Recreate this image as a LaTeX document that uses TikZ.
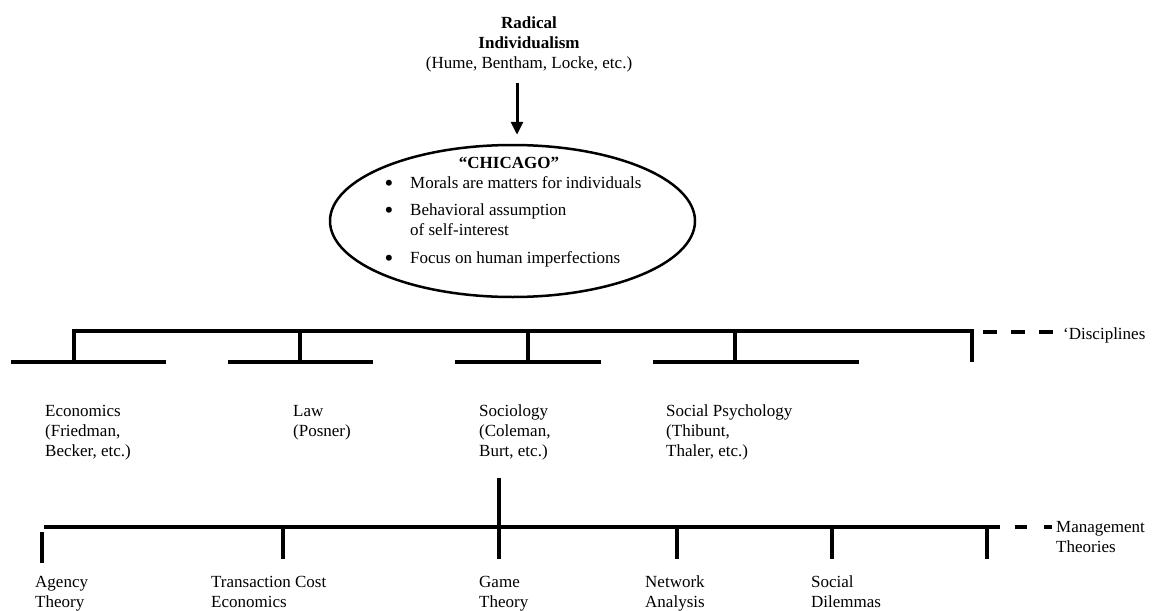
\documentclass[tikz,border=0pt]{standalone}
\usepackage{fontspec}
\setmainfont{Liberation Serif}
\usetikzlibrary{shapes.geometric,arrows.meta}
\newcommand{\bigbul}{\makebox[25pt][l]{\raisebox{-2pt}{\fontsize{22}{20}\selectfont\textbf{•}}}}
\begin{document}
\begin{tikzpicture}[x=1pt,y=-1pt,
  txt/.style={inner sep=0pt, font=\fontsize{17}{20}\selectfont},
  lbl/.style={txt, anchor=base west},
  bar/.style={line width=4pt},
  dsh/.style={line width=4pt, dash pattern=on 14pt off 14pt},
  dsh2/.style={line width=4pt, dash pattern=on 12pt off 17pt},
  arr/.style={line width=3pt, -{Triangle[length=13pt,width=12pt]}},
  oval/.style={draw, ellipse, line width=2.5pt, minimum width=365pt, minimum height=152pt, inner sep=0pt}
  ]
\useasboundingbox (0,0) rectangle (1153,610);

% title
\node[txt, anchor=base] (title) at (529,28.5)
  {\begin{tabular}[t]{@{}c@{}}\textbf{Radical}\\ \textbf{Individualism}\\ (Hume, Bentham, Locke, etc.)\end{tabular}};

% ellipse
\node[oval] (chicago) at (512.5,221) {};
\node[txt, anchor=base] (chtitle) at (509,168.5) {\textbf{“CHICAGO”}};
\node[lbl] (chlist) at (385,188.5)
  {\begin{tabular}[t]{@{}l@{}l@{}}\bigbul & Morals are matters for individuals\\[7pt]
   \bigbul & Behavioral assumption\\ & of self-interest\\[8pt]
   \bigbul & Focus on human imperfections\end{tabular}};

% arrow
\coordinate (a1) at (517,83);
\draw[arr, shorten >=9pt] (a1) -- (a1 |- chicago.north);

% disciplines tree
\coordinate (t0) at (74,362);
\coordinate (t1) at (74,331);
\coordinate (t2) at (972,331);
\coordinate (t3) at (972,362);
\draw[bar] (t0) -- (t1) -- (t2) -- (t3);
\coordinate (eL) at (11,362);  \coordinate (eR) at (166,362);
\coordinate (lT) at (300,331); \coordinate (lB) at (300,362);
\coordinate (lL) at (228,362); \coordinate (lR) at (373,362);
\coordinate (sT) at (528,331); \coordinate (sB) at (528,362);
\coordinate (sL) at (455,362); \coordinate (sR) at (601,362);
\coordinate (pT) at (735,331); \coordinate (pB) at (735,362);
\coordinate (pL) at (653,362); \coordinate (pR) at (859,362);
\draw[bar] (eL) -- (eR);
\draw[bar] (lT) -- (lB); \draw[bar] (lL) -- (lR);
\draw[bar] (sT) -- (sB); \draw[bar] (sL) -- (sR);
\draw[bar] (pT) -- (pB); \draw[bar] (pL) -- (pR);
\coordinate (dA) at (983,332);
\node[lbl] (disc) at (1063,339.5) {‘Disciplines};
\draw[dsh] (dA) -- (disc.west |- dA);

% discipline labels
\node[lbl] (econ) at (45,416.5) {\begin{tabular}[t]{@{}l@{}}Economics\\(Friedman,\\Becker, etc.)\end{tabular}};
\node[lbl] (law) at (293,416.5) {\begin{tabular}[t]{@{}l@{}}Law\\(Posner)\end{tabular}};
\node[lbl] (soc) at (479,416.5) {\begin{tabular}[t]{@{}l@{}}Sociology\\(Coleman,\\Burt, etc.)\end{tabular}};
\node[lbl] (sp) at (666,416.5) {\begin{tabular}[t]{@{}l@{}}Social Psychology\\(Thibunt,\\Thaler, etc.)\end{tabular}};

% management theories
\coordinate (mL) at (44,527);
\coordinate (mR) at (1000,527);
\draw[bar] (mL) -- (mR);
\coordinate (gT) at (499,478); \coordinate (gB) at (499,559);
\draw[bar] (gT) -- (gB);
\coordinate (aT) at (42,532); \coordinate (aB) at (42,563);
\draw[bar] (aT) -- (aB);
\coordinate (cT) at (283,527); \coordinate (cB) at (283,559);
\draw[bar] (cT) -- (cB);
\coordinate (nT) at (677,527); \coordinate (nB) at (677,559);
\draw[bar] (nT) -- (nB);
\coordinate (dT) at (832,527); \coordinate (dB) at (832,559);
\draw[bar] (dT) -- (dB);
\coordinate (rT) at (987,527); \coordinate (rB) at (987,559);
\draw[bar] (rT) -- (rB);
\node[lbl] (mgmt) at (1056,532.5) {\begin{tabular}[t]{@{}l@{}}Management\\Theories\end{tabular}};
\coordinate (mD) at (1015,527);
\draw[dsh2] (mD) -- ([xshift=-4pt]mgmt.west |- mD);

\node[lbl] (agency) at (35,587) {\begin{tabular}[t]{@{}l@{}}Agency\\Theory\end{tabular}};
\node[lbl] (tce) at (211,587) {\begin{tabular}[t]{@{}l@{}}Transaction Cost\\Economics\end{tabular}};
\node[lbl] (game) at (479,587) {\begin{tabular}[t]{@{}l@{}}Game\\Theory\end{tabular}};
\node[lbl] (net) at (645,587) {\begin{tabular}[t]{@{}l@{}}Network\\Analysis\end{tabular}};
\node[lbl] (sdil) at (811,587) {\begin{tabular}[t]{@{}l@{}}Social\\Dilemmas\end{tabular}};
\end{tikzpicture}
\end{document}
